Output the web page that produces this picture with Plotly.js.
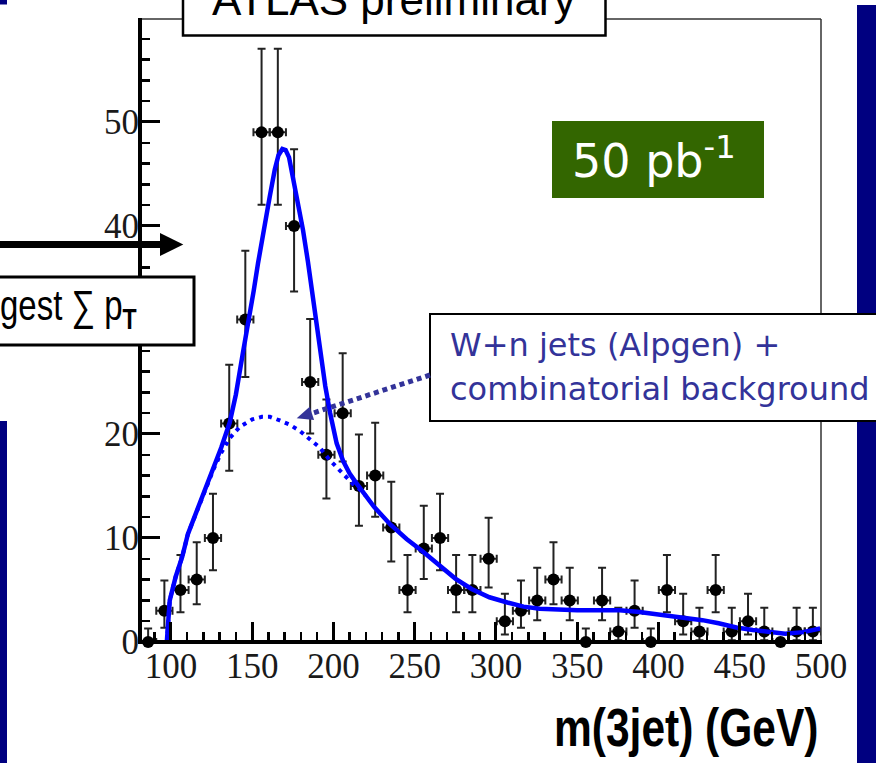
<!DOCTYPE html>
<html>
<head>
<meta charset="utf-8">
<script src="https://cdn.plot.ly/plotly-3.0.1.min.js"></script>
<style>
  html, body { margin: 0; padding: 0; background: #ffffff; }
  #chart { width: 876px; height: 763px; }
</style>
</head>
<body>
<div id="chart"></div>
<script>
// Three-jet invariant mass, 50 pb^-1: data points with Poisson errors,
// total fit (signal + background) and the W+jets/combinatorial background.

// Bin centres (GeV), bin half width and event counts per bin
const binCenters = [86.0, 96.0, 105.9, 115.9, 125.9, 135.9, 145.8, 155.8, 165.8, 175.8,
                    185.7, 195.7, 205.7, 215.7, 225.7, 235.6, 245.6, 255.6, 265.6, 275.5,
                    285.5, 295.5, 305.5, 315.4, 325.4, 335.4, 345.4, 355.3, 365.3, 375.3,
                    385.3, 395.3, 405.2, 415.2, 425.2, 435.2, 445.1, 455.1, 465.1, 475.1,
                    485.0, 495.0];
const binHalfWidth = 4.99;
const counts = [0, 3, 5, 6, 10, 21, 31, 49, 49, 40,
                25, 18, 22, 15, 16, 11, 5, 9, 10, 5,
                5, 8, 2, 3, 4, 6, 4, 0, 4, 1,
                3, 0, 5, 2, 1, 5, 1, 2, 1, 0,
                1, 1];
// Asymmetric (Poisson) uncertainties, upper and lower
const errUp = [1.3, 2.91, 3.37, 3.58, 4.26, 5.65, 6.62, 8.05, 8.05, 7.37,
               6.06, 5.32, 5.76, 4.95, 5.08, 4.41, 3.37, 4.10, 4.26, 3.37,
               3.37, 3.94, 2.64, 2.91, 3.15, 3.58, 3.15, 1.3, 3.15, 2.30,
               2.91, 1.3, 3.37, 2.64, 2.30, 3.37, 2.30, 2.64, 2.30, 0,
               2.30, 2.30];
const errDown = [0, 1.63, 2.15, 2.37, 3.10, 4.54, 5.53, 6.97, 6.97, 6.30,
                 4.96, 4.20, 4.65, 3.83, 3.95, 3.26, 2.15, 2.94, 3.10, 2.15,
                 2.15, 2.76, 1.29, 1.63, 1.91, 2.37, 1.91, 0, 1.91, 0.83,
                 1.63, 0, 2.15, 1.29, 0.83, 2.15, 0.83, 1.29, 0.83, 0,
                 0.83, 0.83];

// Total fit curve
const fitMass = [97.5, 99.3, 103, 107, 110.5, 117, 122, 126.5, 131, 136.2,
                 140, 144, 148.3, 151, 153.6, 157.2, 160.8, 163.9, 166.2, 168.6,
                 170.6, 172.7, 174.5, 176.2, 178.8, 181.3, 184.3, 187.4, 190, 192,
                 195, 198, 202, 206, 210, 214, 218, 225, 235, 245,
                 255, 265, 275, 285, 296, 307, 317, 327, 337, 350,
                 365, 376, 387, 397, 407, 417, 427, 437, 448, 458,
                 468, 478, 489, 499.5];
const fitValue = [0, 4.0, 6.3, 8.2, 10.4, 13.0, 15.0, 16.8, 18.7, 21.1,
                  23.8, 27.5, 31.1, 33.8, 36.4, 39.8, 42.8, 45.4, 46.8, 47.4,
                  47.3, 46.6, 45.2, 43.4, 41.6, 39.6, 36.6, 33.2, 30.1, 27.5,
                  24.6, 22.0, 19.1, 17.4, 16.2, 15.3, 14.4, 13.0, 11.3, 9.9,
                  8.7, 7.4, 6.1, 5.1, 4.3, 3.8, 3.4, 3.2, 3.1, 3.05,
                  3.05, 3.05, 2.9, 2.7, 2.55, 2.4, 2.1, 1.8, 1.4, 1.15,
                  0.95, 0.8, 0.95, 1.3];

// Background-only curve (W+n jets + combinatorial)
const bkgMass = [97.5, 99.3, 103, 107, 110.5, 117, 122, 126.5, 131, 136.2,
                 142.5, 150, 156, 161, 167, 173, 179.3, 183.4, 187.5, 191.6,
                 197.7, 203, 208, 212, 216, 220];
const bkgValue = [0, 4.0, 6.3, 8.2, 10.4, 13.0, 15.0, 16.7, 18.2, 19.6,
                  20.7, 21.4, 21.65, 21.65, 21.3, 20.9, 20.3, 19.8, 19.3, 18.7,
                  17.5, 16.6, 15.8, 15.2, 14.7, 14.05];

// Axis ranges
const massRange = [81, 500];
const countRange = [0, 59.9];

// Page geometry (pixels) of the plotting frame
const W = 876, H = 763;
const L = 140, R = 821, T = 19, B = 642;
const px = x => (x - L) / (R - L);
const py = y => (B - y) / (B - T);

const navy = '#000080';
const noteBlue = '#333399';

const dataTrace = {
  x: binCenters, y: counts, type: 'scatter', mode: 'markers', cliponaxis: false,
  marker: { color: '#000000', size: 12 },
  error_y: { type: 'data', symmetric: false, array: errUp, arrayminus: errDown,
             color: '#222222', thickness: 2, width: 4 },
  error_x: { type: 'constant', value: binHalfWidth, color: '#222222', thickness: 2, width: 4 },
  hoverinfo: 'skip'
};
const bkgTrace = {
  x: bkgMass, y: bkgValue, type: 'scatter', mode: 'lines',
  line: { color: '#0000ff', width: 4, dash: '4px,5px' }, hoverinfo: 'skip'
};
const fitTrace = {
  x: fitMass, y: fitValue, type: 'scatter', mode: 'lines',
  line: { color: '#0000ff', width: 4.5 }, hoverinfo: 'skip'
};

const tickFont = { family: 'Liberation Serif, Times New Roman, serif', size: 35, color: '#1a1a1a' };

function rect(x0, y0, x1, y1, fill, lw, lc) {
  return { type: 'rect', xref: 'paper', yref: 'paper',
           x0: px(x0), x1: px(x1), y0: py(y1), y1: py(y0),
           fillcolor: fill, line: { width: lw || 0, color: lc || 'rgba(0,0,0,0)' }, layer: 'above' };
}
function seg(x0, y0, x1, y1, lw, color, dash) {
  return { type: 'line', xref: 'paper', yref: 'paper',
           x0: px(x0), x1: px(x1), y0: py(y0), y1: py(y1),
           line: { width: lw, color: color, dash: dash || 'solid' }, layer: 'above' };
}
function tri(pts, color) {
  const d = 'M ' + pts.map(p => px(p[0]) + ',' + py(p[1])).join(' L ') + ' Z';
  return { type: 'path', xref: 'paper', yref: 'paper', path: d,
           fillcolor: color, line: { width: 0, color: color }, layer: 'above' };
}

const shapes = [
  // slide side bars
  rect(0, -5, 7, 4.5, navy),
  rect(0, 421, 7, 770, navy),
  rect(857, 5, 890, 770, navy),
  // plot frame: thin top/right, thick axes left/bottom
  seg(L, T, R, T, 1.5, '#333333'),
  seg(R, T, R, B, 1.5, '#333333'),
  seg(L, T - 1, L, B + 2, 4, '#000000'),
  seg(L - 2, B, R + 1, B, 4, '#000000'),
  // title box
  rect(183, -10, 605.5, 35.5, '#ffffff', 2.5, '#000000'),
  // selection-criterion box and arrow
  rect(-10, 277, 194, 345, '#ffffff', 3, '#000000'),
  seg(-5, 244.5, 162, 244.5, 7, '#000000'),
  tri([[183.3, 244.5], [160, 233], [160, 256]], '#000000'),
  // luminosity label box
  rect(552, 121, 764, 198, '#336600'),
  // background label box and pointer
  rect(430, 314, 890, 421, '#ffffff', 2, '#000000'),
  seg(430, 375, 312, 413.4, 5, noteBlue, '5px,4px'),
  tri([[296.7, 418.3], [309.7, 406.8], [314.1, 420.1]], noteBlue)
];

function note(text, x, y, xanchor, font) {
  return { text: text, xref: 'paper', yref: 'paper', x: px(x), y: py(y),
           xanchor: xanchor, yanchor: 'middle', showarrow: false, font: font, borderpad: 0 };
}

const annotations = [
  note('ATLAS preliminary', 394, 0, 'center',
       { family: 'Liberation Sans, Arial, sans-serif', size: 44, color: '#000000' }),
  note('gest \u2211 p<sub><b>T</b></sub>', -1, 309, 'left',
       { family: 'Liberation Sans, Arial, sans-serif', size: 33, color: '#000000' }),
  note('50 pb<sup>-1</sup>', 571, 158, 'left',
       { family: 'DejaVu Sans, Verdana, sans-serif', size: 46, color: '#ffffff' }),
  note('W+n jets (Alpgen) +', 449, 345, 'left',
       { family: 'DejaVu Sans, Verdana, sans-serif', size: 32, color: noteBlue }),
  note('combinatorial background', 449, 389, 'left',
       { family: 'DejaVu Sans, Verdana, sans-serif', size: 32, color: noteBlue }),
  note('m(3jet) (GeV)', 819, 727, 'right',
       { family: 'Liberation Sans, Arial, sans-serif', size: 42.5, color: '#000000', weight: 'bold' })
];

// Tall, narrow lettering for the selection label and the axis title
const tallText = { 1: 1.27, 5: 1.25 };

const layout = {
  width: W, height: H,
  margin: { l: L, r: W - R, t: T, b: H - B, pad: 0 },
  paper_bgcolor: '#ffffff', plot_bgcolor: '#ffffff',
  showlegend: false,
  xaxis: {
    range: massRange, tick0: 0, dtick: 50,
    ticks: 'inside', ticklen: 20, tickwidth: 3, tickcolor: '#000000',
    showline: false, showgrid: false, zeroline: false,
    tickfont: tickFont,
    minor: { dtick: 10, tick0: 0, ticks: 'inside', ticklen: 10, tickwidth: 2.5, tickcolor: '#000000', showgrid: false }
  },
  yaxis: {
    range: countRange, tick0: 0, dtick: 10,
    ticks: 'inside', ticklen: 20, tickwidth: 3, tickcolor: '#000000',
    showline: false, showgrid: false, zeroline: false,
    tickfont: tickFont,
    minor: { dtick: 2, tick0: 0, ticks: 'inside', ticklen: 10, tickwidth: 2.5, tickcolor: '#000000', showgrid: false }
  },
  shapes: shapes,
  annotations: annotations
};

Plotly.newPlot('chart', [dataTrace, bkgTrace, fitTrace], layout, { staticPlot: true, displayModeBar: false })
  .then(gd => {
    const notes = gd.querySelectorAll('.annotation');
    Object.keys(tallText).forEach(i => {
      const t = notes[+i] && notes[+i].querySelector('.annotation-text');
      if (!t) return;
      t.style.transformBox = 'fill-box';
      t.style.transformOrigin = 'center';
      t.style.transform = 'scaleY(' + tallText[i] + ')';
    });
  });
</script>
</body>
</html>
